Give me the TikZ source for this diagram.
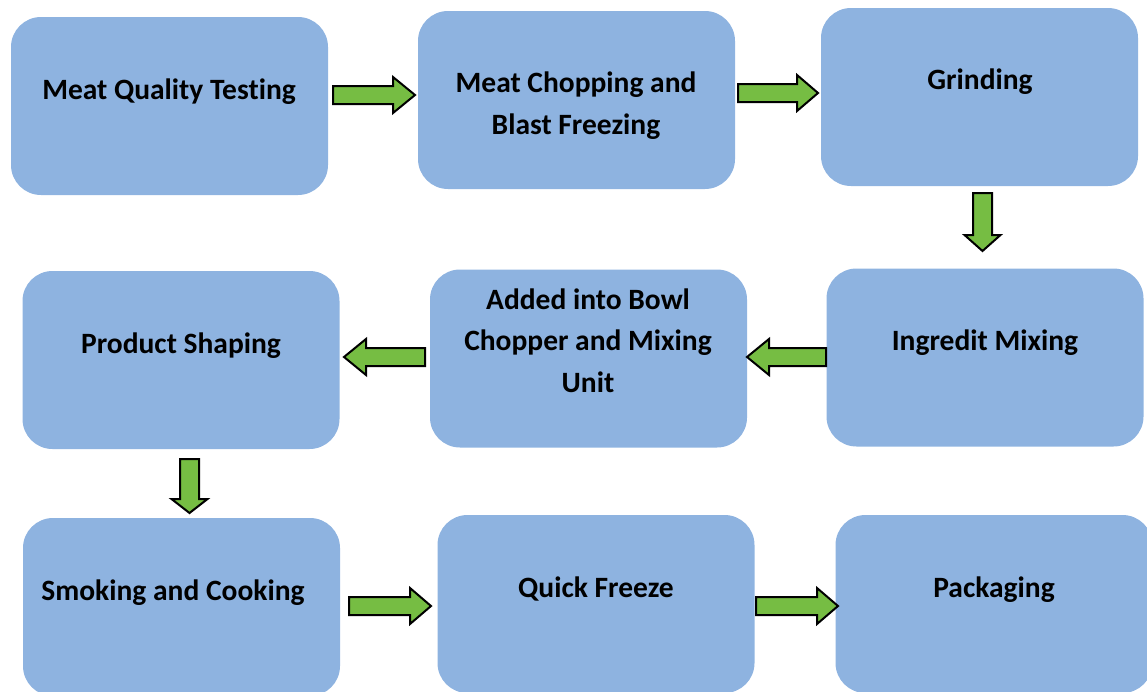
\documentclass[tikz,border=0pt]{standalone}
\usepackage{fontspec}
\setmainfont{Carlito}[Ligatures=NoCommon]
\definecolor{boxblue}{HTML}{8EB3E0}
\definecolor{arrgreen}{HTML}{76BD43}
\tikzset{
  box/.style={draw=none, fill=boxblue, rounded corners=30pt, minimum width=317pt, minimum height=178pt, inner sep=0pt},
  txt/.style={font=\fontsize{29.5}{41.5}\selectfont\bfseries, align=center, inner sep=0pt, anchor=base},
  blk/.style={draw=black, fill=arrgreen, line width=2pt, line join=miter}
}
\newcommand\hblk[4]{% tail x, head base x, tip x, centre y
  \draw[blk] (#1,#4-9) -- (#2,#4-9) -- (#2,#4-18) -- (#3,#4) -- (#2,#4+18) -- (#2,#4+9) -- (#1,#4+9) -- cycle;}
\newcommand\vblk[4]{% centre x, tail y, head base y, tip y
  \draw[blk] (#1-9.5,#2) -- (#1-9.5,#3) -- (#1-18,#3) -- (#1,#4) -- (#1+18,#3) -- (#1+9.5,#3) -- (#1+9.5,#2) -- cycle;}
\begin{document}
\begin{tikzpicture}[x=1pt,y=-1pt]
\useasboundingbox (0,0) rectangle (1147,691);
\clip (0,0) rectangle (1147,691);
% boxes
\node[box] (b1) at (169.5,106) {};
\node[box] (b2) at (576.5,100) {};
\node[box] (b3) at (979.5,97) {};
\node[box] (b4) at (985,357.5) {};
\node[box] (b5) at (588.5,358.5) {};
\node[box] (b6) at (181,360) {};
\node[box] (b7) at (181.5,607) {};
\node[box] (b8) at (596,604) {};
\node[box] (b9) at (994,604) {};
% texts (multi-line nodes: base = last line)
\node[txt] (t1) at (169,99) {Meat Quality Testing};
\node[txt] (t2) at (576,134) {Meat Chopping and\\Blast Freezing};
\node[txt] (t3) at (980,89) {Grinding};
\node[txt] (t4) at (985,350) {Ingredit Mixing};
\node[txt] (t5) at (588,392) {Added into Bowl\\Chopper and Mixing\\Unit};
\node[txt] (t6) at (181,353) {Product Shaping};
\node[txt] (t7) at (173,600) {Smoking and Cooking};
\node[txt] (t8) at (596,597) {Quick Freeze};
\node[txt] (t9) at (994,597) {Packaging};
% block arrows
\hblk{333}{393}{415}{95}
\hblk{738}{797}{818}{93}
\vblk{982.5}{193}{235}{251}
\hblk{826}{769}{747}{357}
\hblk{425}{366}{344}{357}
\vblk{189.5}{459}{499}{513}
\hblk{349}{410}{431}{606}
\hblk{756}{817}{838}{606}
\end{tikzpicture}
\end{document}
